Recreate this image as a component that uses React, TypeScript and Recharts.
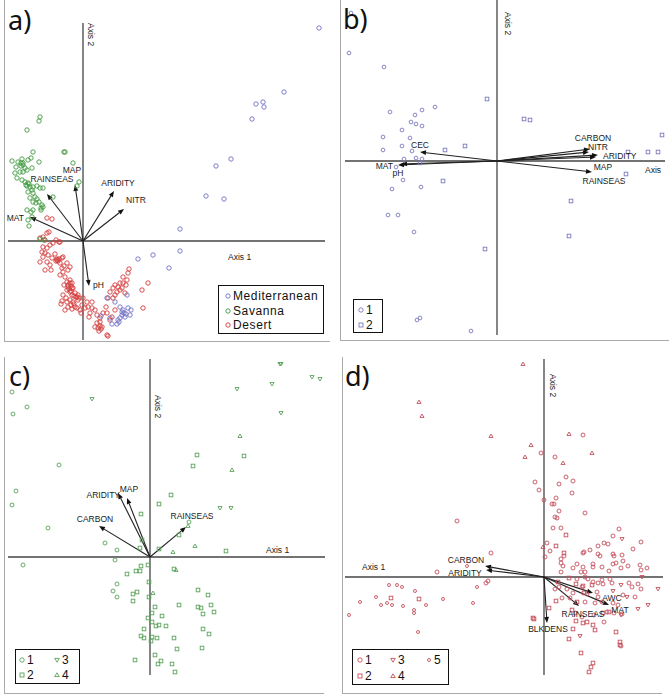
import React from "react";
import { ScatterChart, Scatter, XAxis, YAxis, ReferenceLine } from "recharts";

type Pt = [number, number];
type Arrow = [string, number, number];

// ---- a) biomes ----
const mediterranean: Pt[] = [
  [236, 213], [201, 149], [173, 137], [180, 139], [181, 134], [169, 122], [148, 82], [133, 75],
  [123, 45], [141, 42], [97, 12], [97, -10], [70, -14], [55, -18], [86, -27], [44, -54],
  [32, -61], [37, -66], [40, -69], [45, -67], [48, -69], [43, -73], [39, -74], [37, -77],
  [36, -81], [34, -83], [47, -74], [27, -77], [18, -75], [29, -83], [41, -72], [39, -71],
  [42, -76], [24, -57], [35, -79],
];
const savanna: Pt[] = [
  [-43, 124], [-44, 120], [-56, 111], [-50, 89], [-19, 89], [-18, 89], [-71, 80], [-65, 79],
  [-61, 82], [-60, 78], [-62, 75], [-58, 73], [-67, 74], [-55, 81], [-52, 83], [-44, 79],
  [-10, 78], [-63, 69], [-60, 69], [-56, 71], [-51, 73], [-66, 63], [-61, 61], [-58, 59],
  [-55, 58], [-56, 55], [-53, 54], [-50, 54], [-46, 55], [-43, 53], [-51, 51], [-55, 49],
  [-50, 48], [-48, 44], [-53, 43], [-46, 42], [-44, 39], [-41, 36], [-40, 34], [-42, 31],
  [-47, 38], [-50, 39], [-56, 31], [-52, 29], [-50, 31], [-51, 24], [-55, 21], [-54, 15],
  [-30, 44], [-4, 59], [-6, 55], [-40, 53], [-68, 68], [-43, 2], [-39, 1], [-62, 78],
  [-57, 56], [-54, 57], [-60, 76], [-42, 33],
];
const desert: Pt[] = [
  [-43, 3], [-38, 1], [-33, -4], [-30, -2], [-24, -1], [-40, -6], [-36, -7], [-41, -11],
  [-38, -12], [-40, -16], [-35, -14], [-43, -21], [-36, -21], [-31, -17], [-26, -18], [-25, -20],
  [-21, -17], [-20, -16], [-23, -22], [-16, -22], [-13, -26], [-38, -29], [-32, -29], [-21, -27],
  [-20, -31], [-15, -29], [-23, -34], [-18, -36], [-13, -39], [-16, -41], [-11, -42], [-15, -46],
  [-10, -47], [-13, -51], [-16, -49], [-8, -52], [-11, -54], [-6, -56], [-5, -54], [-20, -54],
  [-21, -60], [-16, -61], [-13, -59], [-10, -61], [-5, -59], [0, -57], [4, -61], [-1, -64],
  [-15, -66], [-11, -68], [-18, -69], [-6, -67], [-3, -69], [2, -67], [5, -66], [9, -67],
  [12, -69], [14, -74], [17, -77], [20, -72], [23, -66], [25, -57], [24, -72], [27, -79],
  [14, -82], [15, -87], [19, -86], [12, -86], [25, -95], [29, -76], [32, -69], [27, -51],
  [30, -47], [34, -51], [32, -44], [35, -46], [37, -42], [39, -47], [40, -42], [43, -44],
  [44, -39], [45, -32], [46, -28], [40, -36], [37, -49], [42, -52], [32, -54], [30, -57],
  [65, -42], [59, -49], [60, -67], [9, -61], [7, -72], [-36, 23], [-31, 22], [-36, 8],
  [-40, 4], [-23, -1], [-27, 1], [-34, 9], [-26, -19], [-24, -18], [-27, -20], [-13, -42],
  [-12, -45], [-14, -48], [-12, -50], [-7, -56], [-4, -57], [-9, -55], [-11, -47], [-15, -44],
  [18, -88], [17, -85], [16, -90], [-19, -44], [-22, -63], [-8, -66], [-17, -57], [-12, -64],
  [17, -81], [24, -94], [-28, -13], [-33, -24], [-19, -25], [-9, -63], [-2, -72], [6, -76],
];
const arrowsA: Arrow[] = [
  ["MAT", -53, 24], ["RAINSEAS", -36, 47], ["MAP", -8, 56], ["ARIDITY", 31, 50],
  ["NITR", 41, 32], ["pH", 6, -45],
];

// ---- b) Mediterranean groups ----
const medGroup1: Pt[] = [
  [-146, 148], [-148, 108], [-113, 94], [-107, 49], [-82, 46], [-75, 51], [-62, 54], [-86, 39],
  [-81, 37], [-75, 35], [-95, 31], [-114, 24], [-87, 23], [-95, 15], [-114, 11], [-85, 10],
  [-81, 3], [-75, 2], [-93, 2], [-101, -6], [-77, -2], [-94, -19], [-105, -28], [-76, -26],
  [-109, -54], [-99, -54], [-83, -71], [-80, -159], [-77, -157], [-26, -170],
];
const medGroup2: Pt[] = [
  [-10, 62], [27, 42], [33, 41], [-32, 15], [-52, 11], [-54, -20], [-12, -88], [74, -40],
  [72, -75], [131, 9], [129, -13], [151, 9], [161, 9], [165, 26],
];
const arrowsB: Arrow[] = [
  ["CEC", -77, 9], ["MAT", -99, -4], ["pH", -96, -3], ["CARBON", 93, 12], ["NITR", 92, 9],
  ["ARIDITY", 101, 6], ["MAP", 99, 4], ["RAINSEAS", 95, -11],
];

// ---- c) Savanna groups ----
const savGroup1: Pt[] = [
  [-138, 165], [-123, 150], [-137, 143], [-91, 92], [-134, 66], [-138, 52], [-102, 29], [-45, 14],
  [-33, 7], [-35, -3], [-127, -8], [-33, -27], [-37, -34], [-33, -40], [39, 35],
];
const savGroup2: Pt[] = [
  [47, 102], [94, 101], [43, 91], [21, 62], [9, 53], [-9, 43], [29, 22], [-8, 17],
  [-10, 9], [9, 8], [76, 6], [-2, -8], [-9, -9], [-14, -14], [-10, -14], [-23, -17],
  [24, -12], [-1, -25], [-13, -35], [-17, -37], [-17, -44], [-1, -40], [48, -33], [58, -38],
  [29, -48], [5, -50], [48, -50], [51, -51], [61, -48], [64, -55], [53, -57], [2, -56],
  [12, -59], [-2, -61], [2, -65], [9, -68], [6, -69], [16, -69], [53, -72], [-6, -72],
  [59, -77], [-9, -79], [-6, -81], [2, -80], [7, -81], [1, -84], [24, -81], [27, -92],
  [52, -91], [5, -98], [11, -104], [8, -107], [-15, -103], [22, -107], [25, -115],
];
const savGroup3: Pt[] = [
  [-58, 158], [131, 193], [130, 193], [162, 180], [170, 178], [122, 173], [87, 168], [131, 144],
  [70, 49], [81, 49],
];
const savGroup4: Pt[] = [[90, 121], [82, 87], [45, 11], [23, 5], [26, -13], [3, -36], [38, 31]];
const arrowsC: Arrow[] = [
  ["CARBON", -51, 31], ["ARIDITY", -32, 64], ["MAP", -23, 59], ["RAINSEAS", 36, 30],
];

// ---- d) Desert groups ----
const desGroup1: Pt[] = [
  [39, 142], [-3, 124], [11, 120], [22, 100], [29, 96], [-9, 95], [-5, 87], [15, 93],
  [28, 84], [0, 77], [12, 79], [8, 73], [10, 73], [15, 66], [11, 60], [13, 59],
  [41, 64], [9, 49], [17, 49], [75, 48], [69, 41], [97, 35], [89, 28], [60, 34],
  [64, 33], [54, 31], [46, 27], [40, 25], [39, 24], [54, 23], [56, 21], [69, 23],
  [70, 21], [78, 22], [3, 34], [6, 26], [1, 20], [17, 18], [20, 21], [17, 14],
  [19, 11], [17, 5], [33, 13], [39, 10], [49, 13], [49, 10], [58, 10], [69, 13],
  [72, 14], [79, 16], [84, 11], [77, 9], [96, 12], [97, 7], [103, 9], [37, 5],
  [41, 5], [65, 6], [29, 9], [33, -2], [41, 0], [44, -2], [49, -5], [54, -6],
  [58, -3], [59, -7], [66, -2], [68, -6], [85, -6], [88, -10], [94, -7], [97, -12],
  [38, -10], [15, -10], [23, -12], [29, -16], [43, -17], [53, -15], [54, -20], [79, -18],
  [91, -20], [18, -21], [26, -21], [41, -25], [51, -26], [58, -25], [69, -26], [74, -28],
  [63, -35], [70, -36], [78, -37], [31, -36], [38, -40], [50, -38], [60, -45], [77, -69],
  [11, -12], [-107, 5], [-87, 56], [-53, 24], [-56, -4], [-58, -6],
];
const desGroup2: Pt[] = [
  [22, 42], [12, 31], [20, 24], [14, -5], [12, -24], [25, -1], [32, -7], [39, -9],
  [48, -8], [40, -16], [33, -25], [28, -33], [32, -44], [39, -46], [49, -48], [51, -53],
  [29, -52], [25, -62], [43, -45], [72, -55], [76, -65], [76, -68], [37, -76], [49, -86],
  [47, -90], [45, -95], [-10, -42], [-125, -22], [-153, -21], [65, -35], [59, -36], [5, -31],
  [-11, -41],
];
const desGroup3: Pt[] = [
  [78, 38], [77, -8], [98, 0], [114, -12], [104, -28], [94, -32], [83, -20], [77, -38],
  [36, -59], [69, -14],
];
const desGroup4: Pt[] = [
  [-21, 213], [-125, 175], [-122, 161], [-53, 141], [-13, 132], [-19, 120], [25, 143], [48, 124],
  [19, 114], [-1, 30],
];
const desGroup5: Pt[] = [
  [-67, -10], [-155, -8], [-147, -8], [-142, -10], [-129, -14], [-184, -25], [-168, -20], [-157, -26],
  [-163, -28], [-152, -28], [-141, -29], [-118, -28], [-101, -22], [-71, -26], [-130, -33], [-130, -36],
  [-195, -38], [-126, -55], [-77, 11],
];
const arrowsD: Arrow[] = [
  ["CARBON", -59, 11], ["ARIDITY", -58, 7], ["AWC", 49, -16], ["MAT", 65, -28],
  ["RAINSEAS", 35, -29], ["BLKDENS", 3, -46],
];

// label placement relative to arrow tip: [dx, dy, anchor]
type Off = [number, number, "start" | "middle" | "end"];
const offA: Record<string, Off> = {
  MAT: [-6, 1, "end"], RAINSEAS: [5, -15, "middle"], MAP: [-3, -15, "middle"],
  ARIDITY: [4, -8, "middle"], NITR: [12, -9, "middle"], pH: [4, -1, "start"],
};
const offB: Record<string, Off> = {
  CEC: [0, -7, "middle"], MAT: [-5, 1, "end"], pH: [-3, 9, "middle"], CARBON: [3, -11, "middle"],
  NITR: [9, -5, "middle"], ARIDITY: [5, 1, "start"], MAP: [7, 10, "middle"], RAINSEAS: [12, 9, "middle"],
};
const offC: Record<string, Off> = {
  CARBON: [-4, -7, "middle"], ARIDITY: [2, 2, "end"], MAP: [2, -9, "middle"], RAINSEAS: [6, -11, "middle"],
};
const offD: Record<string, Off> = {
  CARBON: [-19, -6, "middle"], ARIDITY: [-21, 3, "middle"], AWC: [19, 5, "middle"],
  MAT: [11, 5, "middle"], RAINSEAS: [4, 8, "middle"], BLKDENS: [1, 6, "middle"],
};

type Kind = "circle" | "square" | "triDown" | "triUp" | "small";

const markerShape = (kind: Kind, color: string, s = 1) => (p: any) => {
  const { cx, cy } = p;
  if (cx == null || cy == null) return <g />;
  const common = { fill: "none", stroke: color, strokeWidth: 0.9 };
  if (kind === "circle") return <circle cx={cx} cy={cy} r={2.2 * s} {...common} />;
  if (kind === "small") return <circle cx={cx} cy={cy} r={1.5 * s} {...common} />;
  if (kind === "square") {
    const h = 2 * s;
    return <rect x={cx - h} y={cy - h} width={2 * h} height={2 * h} {...common} />;
  }
  const w = 2.3 * s;
  if (kind === "triDown")
    return <polygon points={`${cx - w},${cy - 1.6 * s} ${cx + w},${cy - 1.6 * s} ${cx},${cy + 2.2 * s}`} {...common} />;
  return <polygon points={`${cx - w},${cy + 1.6 * s} ${cx + w},${cy + 1.6 * s} ${cx},${cy - 2.2 * s}`} {...common} />;
};

const arrowShape = (p: any) => {
  const { x1, y1, x2, y2 } = p;
  const ang = Math.atan2(y2 - y1, x2 - x1);
  const len = 6;
  const half = 2.4;
  const bx = x2 - len * Math.cos(ang);
  const by = y2 - len * Math.sin(ang);
  const px = -Math.sin(ang) * half;
  const py = Math.cos(ang) * half;
  return (
    <g>
      <line x1={x1} y1={y1} x2={bx} y2={by} stroke="#222" strokeWidth={1.1} />
      <polygon points={`${x2},${y2} ${bx + px},${by + py} ${bx - px},${by - py}`} fill="#111" />
    </g>
  );
};

const labelShape = (offs: Record<string, Off>) => (p: any) => {
  const { cx, cy, payload } = p;
  if (cx == null) return <g />;
  const o = offs[payload.name] || [0, 0, "middle"];
  return (
    <text
      x={cx + o[0]}
      y={cy + o[1]}
      textAnchor={o[2]}
      dominantBaseline="central"
      fontSize={8.5}
      fontFamily="'Liberation Sans', Arial, sans-serif"
      fill="#1a1a1a"
    >
      {payload.name}
    </text>
  );
};

interface Series {
  pts: Pt[];
  kind: Kind;
  color: string;
  size?: number;
}

interface PanelCfg {
  left: number;
  top: number;
  w: number;
  h: number;
  origin: [number, number];
  vAxis: [number, number];
  hAxis: [number, number];
}

function Panel({ cfg, series, arrows, offs }: { cfg: PanelCfg; series: Series[]; arrows: Arrow[]; offs: Record<string, Off> }) {
  const [ox, oy] = cfg.origin;
  const xDom = [cfg.left - ox, cfg.left + cfg.w - ox];
  const yDom = [oy - cfg.top - cfg.h, oy - cfg.top];
  const labels = arrows.map(([name, x, y]) => ({ name, x, y }));
  return (
    <div style={{ position: "absolute", left: cfg.left, top: cfg.top }}>
      <ScatterChart width={cfg.w} height={cfg.h} margin={{ top: 0, right: 0, bottom: 0, left: 0 }}>
        <XAxis type="number" dataKey="x" domain={xDom} hide allowDataOverflow />
        <YAxis type="number" dataKey="y" domain={yDom} hide allowDataOverflow />
        <ReferenceLine segment={[{ x: 0, y: cfg.vAxis[0] }, { x: 0, y: cfg.vAxis[1] }]} stroke="#444" strokeWidth={1.3} />
        <ReferenceLine segment={[{ x: cfg.hAxis[0], y: 0 }, { x: cfg.hAxis[1], y: 0 }]} stroke="#444" strokeWidth={1.3} />
        {series.map((s, i) => (
          <Scatter
            key={i}
            data={s.pts.map(([x, y]) => ({ x, y }))}
            shape={markerShape(s.kind, s.color, s.size ?? 1)}
            isAnimationActive={false}
          />
        ))}
        {arrows.map(([name, x, y]) => (
          <ReferenceLine key={name} segment={[{ x: 0, y: 0 }, { x, y }]} shape={arrowShape} />
        ))}
        <Scatter data={labels} shape={labelShape(offs)} isAnimationActive={false} />
      </ScatterChart>
    </div>
  );
}

const glyph = (kind: Kind, color: string) => (
  <svg width={8} height={8} style={{ display: "block" }}>
    {markerShape(kind, color)({ cx: 4, cy: 4 })}
  </svg>
);

function LegendBox({ left, top, w, h, items }: { left: number; top: number; w: number; h: number; items: { kind: Kind; color: string; text: string; mx: number; ty: number }[] }) {
  return (
    <div style={{ position: "absolute", left, top, width: w, height: h, border: "1.5px solid #111", background: "#fff", boxSizing: "border-box" }}>
      {items.map((it, i) => (
        <React.Fragment key={i}>
          <div style={{ position: "absolute", left: it.mx - 4, top: it.ty - 4 }}>{glyph(it.kind, it.color)}</div>
          <div style={{ position: "absolute", left: it.mx + 5, top: it.ty - 6, height: 12, lineHeight: "12px", fontSize: 12, letterSpacing: 0.6, fontFamily: "'Liberation Sans', Arial, sans-serif", color: "#111", whiteSpace: "nowrap" }}>
            {it.text}
          </div>
        </React.Fragment>
      ))}
    </div>
  );
}

const txt: React.CSSProperties = { position: "absolute", fontSize: 8.5, fontFamily: "'Liberation Sans', Arial, sans-serif", color: "#1a1a1a", whiteSpace: "nowrap", lineHeight: "10px" };
const vtxt: React.CSSProperties = { ...txt, writingMode: "vertical-rl" };
const letter: React.CSSProperties = { position: "absolute", fontSize: 27, fontFamily: "'Noto Sans', sans-serif", color: "#111", lineHeight: "30px" };

const cA = "#6f6fc4";
const cSav = "#3f9a3f";
const cDes = "#d43a3a";
const cB = "#7a7ac0";
const cC = "#5aa35a";
const cD = "#c5505c";

export default function App() {
  return (
    <div style={{ position: "absolute", left: 0, top: 0, width: 672, height: 700, background: "#fff", overflow: "hidden" }}>
      {/* frames */}
      <div style={{ position: "absolute", left: 4, top: 0, width: 325, height: 341, borderLeft: "1.5px solid #aaa", borderBottom: "1.5px solid #aaa" }} />
      <div style={{ position: "absolute", left: 340, top: 0, width: 328, height: 340, borderLeft: "1.5px solid #aaa", borderBottom: "1.5px solid #aaa" }} />
      <div style={{ position: "absolute", left: 4, top: 357, width: 319, height: 336, borderLeft: "1.5px solid #aaa", borderBottom: "1.5px solid #aaa" }} />
      <div style={{ position: "absolute", left: 342, top: 357, width: 319, height: 336, borderLeft: "1.5px solid #aaa", borderBottom: "1.5px solid #aaa" }} />

      <Panel
        cfg={{ left: 0, top: 0, w: 336, h: 345, origin: [83, 241], vAxis: [218, -99], hAxis: [-75, 242] }}
        series={[
          { pts: desert, kind: "circle", color: cDes },
          { pts: savanna, kind: "circle", color: cSav },
          { pts: mediterranean, kind: "circle", color: cA },
        ]}
        arrows={arrowsA}
        offs={offA}
      />
      <Panel
        cfg={{ left: 336, top: 0, w: 336, h: 345, origin: [497, 161], vAxis: [161, -174], hAxis: [-152, 168] }}
        series={[
          { pts: medGroup1, kind: "circle", color: cB, size: 0.85 },
          { pts: medGroup2, kind: "square", color: cB, size: 0.9 },
        ]}
        arrows={arrowsB}
        offs={offB}
      />
      <Panel
        cfg={{ left: 0, top: 345, w: 336, h: 355, origin: [150, 557], vAxis: [198, -118], hAxis: [-142, 175] }}
        series={[
          { pts: savGroup1, kind: "circle", color: cC, size: 0.9 },
          { pts: savGroup2, kind: "square", color: cC, size: 0.9 },
          { pts: savGroup3, kind: "triDown", color: cC, size: 0.9 },
          { pts: savGroup4, kind: "triUp", color: cC, size: 0.9 },
        ]}
        arrows={arrowsC}
        offs={offC}
      />
      <Panel
        cfg={{ left: 336, top: 345, w: 336, h: 355, origin: [544, 577], vAxis: [218, -98], hAxis: [-199, 119] }}
        series={[
          { pts: desGroup1, kind: "circle", color: cD, size: 0.9 },
          { pts: desGroup2, kind: "square", color: cD, size: 0.9 },
          { pts: desGroup3, kind: "triDown", color: cD, size: 0.9 },
          { pts: desGroup4, kind: "triUp", color: cD, size: 0.9 },
          { pts: desGroup5, kind: "small", color: cD },
        ]}
        arrows={arrowsD}
        offs={offD}
      />

      {/* panel letters */}
      <div style={{ ...letter, left: 8, top: 5 }}>a)</div>
      <div style={{ ...letter, left: 343, top: 4 }}>b)</div>
      <div style={{ ...letter, left: 9, top: 361 }}>c)</div>
      <div style={{ ...letter, left: 345, top: 361 }}>d)</div>

      {/* axis names */}
      <div style={{ ...vtxt, left: 86, top: 23 }}>Axis 2</div>
      <div style={{ ...txt, left: 228, top: 252 }}>Axis 1</div>
      <div style={{ ...vtxt, left: 503, top: 12 }}>Axis 2</div>
      <div style={{ ...txt, left: 645, top: 165 }}>Axis</div>
      <div style={{ ...vtxt, left: 153, top: 395 }}>Axis 2</div>
      <div style={{ ...txt, left: 266, top: 545 }}>Axis 1</div>
      <div style={{ ...vtxt, left: 548, top: 374 }}>Axis 2</div>
      <div style={{ ...txt, left: 362, top: 562 }}>Axis 1</div>

      {/* legends */}
      <LegendBox
        left={218} top={285} w={106} h={49}
        items={[
          { kind: "circle", color: cA, text: "Mediterranean", mx: 9, ty: 10 },
          { kind: "circle", color: cSav, text: "Savanna", mx: 9, ty: 24.5 },
          { kind: "circle", color: cDes, text: "Desert", mx: 9, ty: 39 },
        ]}
      />
      <LegendBox
        left={353} top={299} w={30} h={34}
        items={[
          { kind: "circle", color: cB, text: "1", mx: 7, ty: 10 },
          { kind: "square", color: cB, text: "2", mx: 7, ty: 24.5 },
        ]}
      />
      <LegendBox
        left={15} top={649} w={65} h={35}
        items={[
          { kind: "circle", color: cC, text: "1", mx: 6, ty: 10 },
          { kind: "square", color: cC, text: "2", mx: 6, ty: 25 },
          { kind: "triDown", color: cC, text: "3", mx: 41, ty: 10 },
          { kind: "triUp", color: cC, text: "4", mx: 41, ty: 25 },
        ]}
      />
      <LegendBox
        left={352} top={649} w={97} h={36}
        items={[
          { kind: "circle", color: cD, text: "1", mx: 7, ty: 10 },
          { kind: "square", color: cD, text: "2", mx: 7, ty: 26 },
          { kind: "triDown", color: cD, text: "3", mx: 40, ty: 10 },
          { kind: "triUp", color: cD, text: "4", mx: 40, ty: 26 },
          { kind: "small", color: cD, text: "5", mx: 76, ty: 10 },
        ]}
      />
    </div>
  );
}
